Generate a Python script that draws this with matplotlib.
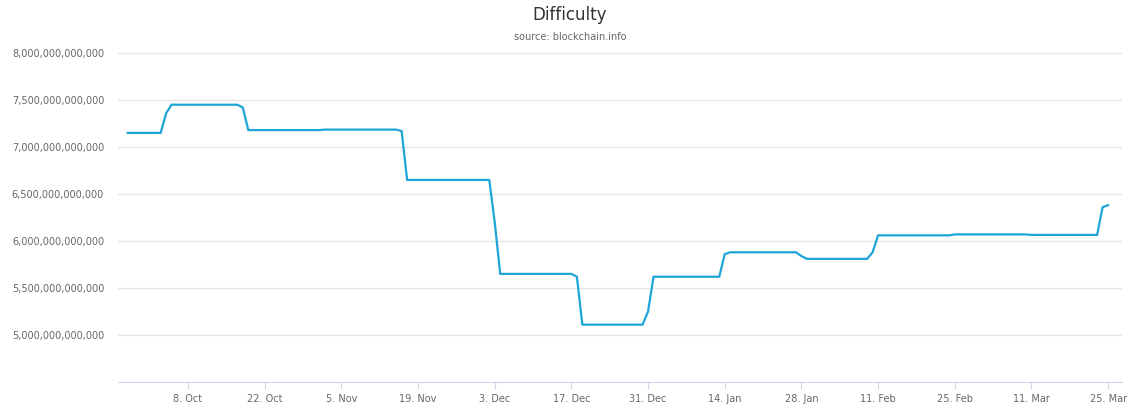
import matplotlib
matplotlib.use("Agg")
import matplotlib.pyplot as plt
from matplotlib.ticker import FuncFormatter
import pandas as pd

dates = ["2018-09-27","2018-10-03","2018-10-04","2018-10-05","2018-10-17","2018-10-18","2018-10-19",
         "2018-11-01","2018-11-02","2018-11-15","2018-11-16","2018-11-17",
         "2018-12-02","2018-12-03","2018-12-04","2018-12-17","2018-12-18","2018-12-19",
         "2018-12-30","2018-12-31","2019-01-01","2019-01-13","2019-01-14","2019-01-15",
         "2019-01-27","2019-01-28","2019-01-29","2019-02-09","2019-02-10","2019-02-11",
         "2019-02-24","2019-02-25","2019-03-10","2019-03-11","2019-03-23","2019-03-24","2019-03-25"]
values_t = [7.15,7.15,7.36,7.45,7.45,7.42,7.18,
            7.18,7.185,7.185,7.17,6.65,
            6.65,6.2,5.65,5.65,5.62,5.11,
            5.11,5.25,5.62,5.62,5.86,5.88,
            5.88,5.84,5.81,5.81,5.88,6.06,
            6.06,6.07,6.07,6.065,6.065,6.36,6.38]
tick_dates = ["2018-10-08","2018-10-22","2018-11-05","2018-11-19","2018-12-03","2018-12-17","2018-12-31",
              "2019-01-14","2019-01-28","2019-02-11","2019-02-25","2019-03-11","2019-03-25"]
tick_labels = ["8. Oct","22. Oct","5. Nov","19. Nov","3. Dec","17. Dec","31. Dec",
               "14. Jan","28. Jan","11. Feb","25. Feb","11. Mar","25. Mar"]

x = pd.to_datetime(dates)
y = [v*1e12 for v in values_t]

fig = plt.figure(figsize=(11.4,4.13), dpi=100)
ax = fig.add_axes([118/1140, 31/413, (1122-118)/1140, (382-53)/413])
ax.plot(x, y, color="#1ea5d8", lw=1.6)
ax.set_ylim(4.5e12, 8e12)
ax.set_yticks([5e12,5.5e12,6e12,6.5e12,7e12,7.5e12,8e12])
ax.yaxis.set_major_formatter(FuncFormatter(lambda v,p: f"{int(round(v)):,}"))
ax.set_xlim(pd.Timestamp("2018-09-25 05:00"), pd.Timestamp("2019-03-27 13:00"))
ax.set_xticks(pd.to_datetime(tick_dates))
ax.set_xticklabels(tick_labels)
ax.grid(axis="y", color="#e6e6e6", lw=1)
for s in ["top","right","left"]:
    ax.spines[s].set_visible(False)
ax.spines["bottom"].set_color("#ccd6eb")
ax.tick_params(axis="y", length=0, labelsize=7, labelcolor="#666666", pad=10)
ax.tick_params(axis="x", length=5, color="#ccd6eb", labelsize=7, labelcolor="#666666")
ax.set_ylabel("Difficulty", fontsize=7, color="#666666", labelpad=10)
fig.text(0.5, 1-15/413, "Difficulty", ha="center", va="center", fontsize=12, color="#333333")
fig.text(0.5, 1-37/413, "source: blockchain.info", ha="center", va="center", fontsize=7, color="#666666")
fig.savefig("out.png", dpi=100)
